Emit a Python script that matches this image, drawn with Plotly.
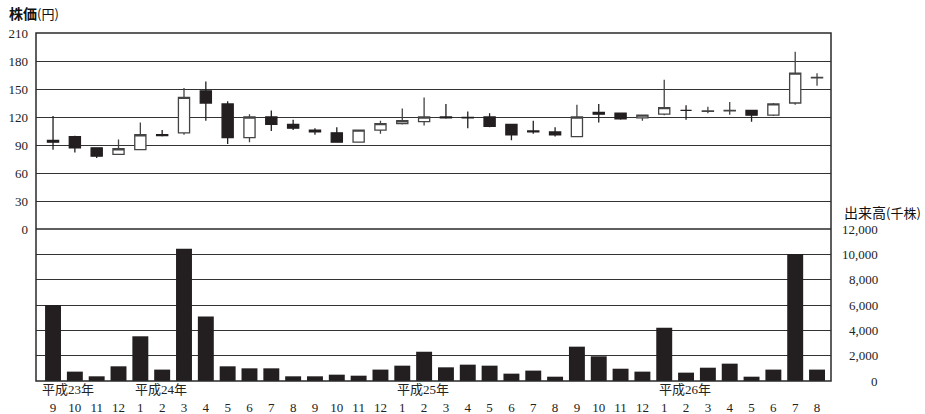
import plotly.graph_objects as go

# ---- data ----
months = ["9", "10", "11", "12", "1", "2", "3", "4", "5", "6", "7", "8",
          "9", "10", "11", "12", "1", "2", "3", "4", "5", "6", "7", "8",
          "9", "10", "11", "12", "1", "2", "3", "4", "5", "6", "7", "8"]
year_labels = ["平成23年", "平成24年", "平成25年", "平成26年"]
year_index = [0, 4, 16, 28]

open_ = [95, 99, 87, 80, 85, 101, 103, 148, 134, 98, 120, 112,
         106, 103, 93, 106, 113, 115, 120, 119.5, 120, 112, 105, 104,
         99, 125, 124, 119, 123, 127, 126, 126.5, 127, 122, 135, 162]
high = [121, 100, 87, 96, 114, 106, 151, 158, 137, 123, 127, 117,
        108, 109, 106, 116, 129, 141, 134, 126, 124, 112, 116, 109,
        133, 134, 124, 122, 160, 132.5, 131, 136, 127, 135, 190, 167]
low = [85, 82, 76, 80, 85, 99, 101, 116, 91, 93, 105, 106,
       101, 93, 93, 102, 112, 111, 118, 108, 109, 95, 102, 99,
       99, 114, 117, 116, 122, 117, 124, 122.5, 115, 121, 133, 153.5]
close = [93, 87, 78, 86, 101, 100, 141, 135, 98, 120, 112, 108,
         104, 93, 106, 113, 116, 120, 119, 119, 110, 101, 104, 101,
         120, 123, 118, 122, 130, 127, 126.5, 127, 122, 134, 167, 162.5]
volume = [6000, 740, 370, 1160, 3530, 900, 10440, 5100, 1160, 1000, 1000, 370,
          370, 500, 420, 900, 1210, 2310, 1080, 1290, 1210, 580, 820, 340,
          2710, 1950, 970, 740, 4210, 660, 1050, 1370, 340, 900, 10020, 900]

price_ticks = [0, 30, 60, 90, 120, 150, 180, 210]
vol_ticks = [0, 2000, 4000, 6000, 8000, 10000, 12000]

# ---- figure ----
x = list(range(len(months)))
DARK = "#231f20"
GRID = "#333333"
TXT = "#222222"
SERIF = "Liberation Serif"
CJK = "Noto Sans CJK JP"

split = 152 / 348

fig = go.Figure()
fig.add_trace(go.Candlestick(
    x=x, open=open_, high=high, low=low, close=close,
    xaxis="x", yaxis="y",
    increasing=dict(fillcolor="white", line=dict(color="#444444", width=1.3)),
    decreasing=dict(fillcolor=DARK, line=dict(color=DARK, width=1.3)),
    whiskerwidth=0, showlegend=False, hoverinfo="skip",
))
fig.add_trace(go.Bar(
    x=x, y=volume, xaxis="x", yaxis="y2", width=0.73,
    marker=dict(color=DARK, line=dict(width=0)), showlegend=False,
))

fig.update_layout(
    template="none",
    width=925, height=414,
    margin=dict(l=36, r=94, t=33, b=33, autoexpand=False),
    paper_bgcolor="white", plot_bgcolor="white",
    boxgap=0.27,
    font=dict(family=SERIF, size=13, color=TXT),
    xaxis=dict(
        anchor="y2", range=[-0.78, 35.64], tickmode="array",
        tickvals=x, ticktext=months, showgrid=False, zeroline=False,
        ticks="", ticklabelstandoff=17, rangeslider=dict(visible=False),
        tickfont=dict(family=SERIF, size=13, color=TXT),
        showline=False, automargin=False,
    ),
    yaxis=dict(
        domain=[split, 1], range=[0, 210], tickmode="array",
        tickvals=price_ticks, showgrid=True, gridcolor=GRID, gridwidth=1.3,
        zeroline=False, ticks="", ticklabelstandoff=7, automargin=False,
        showline=False,
        tickfont=dict(family=SERIF, size=13, color=TXT),
    ),
    yaxis2=dict(
        domain=[0, split], range=[0, 12000], tickmode="array",
        tickvals=vol_ticks, showgrid=True, gridcolor=GRID, gridwidth=1.3,
        zeroline=False, showticklabels=False, ticks="", automargin=False,
        showline=False,
    ),
    bargap=0.27,
)

# frame
fig.add_shape(type="rect", xref="paper", yref="paper", x0=0, x1=1, y0=0, y1=1,
              line=dict(color="#2a2a2a", width=1.5), fillcolor="rgba(0,0,0,0)")
# line at price 0 / volume 12000
fig.add_shape(type="line", xref="paper", yref="paper", x0=0, x1=1, y0=split, y1=split,
              line=dict(color="#2a2a2a", width=1.5))

# right-side volume tick labels (right aligned)
for v in vol_ticks:
    fig.add_annotation(x=(880 - 36) / 795, xref="paper", y=v, yref="y2",
                       text=f"{v:,}", showarrow=False, xanchor="right", yanchor="middle",
                       font=dict(family=SERIF, size=13, color=TXT))

# year labels
for lab, i in zip(year_labels, year_index):
    fig.add_annotation(x=i - (0.6 if i == 0 else 0.35), xref="x", y=-8 / 348, yref="paper",
                       text=lab, showarrow=False, xanchor="left", yanchor="middle",
                       font=dict(family=SERIF + ", " + CJK, size=13, color=TXT))

# axis titles
fig.add_annotation(x=-29 / 795, xref="paper", y=1 + 20 / 348, yref="paper",
                   text="<b>株価</b><span style='font-size:13px'>(円)</span>",
                   showarrow=False, xanchor="left", yanchor="middle",
                   font=dict(family=CJK, size=14, color="#111111"))
fig.add_annotation(x=(842 - 36) / 795, xref="paper", y=split + (229 - 212) / 348, yref="paper",
                   text="出来高<span style='font-size:13px'>(千株)</span>",
                   showarrow=False, xanchor="left", yanchor="middle",
                   font=dict(family=CJK, size=14, color="#111111"))

fig.write_html("out.html", config={"displayModeBar": False},
               post_script="document.body.style.margin='0';document.body.style.overflow='hidden';")
